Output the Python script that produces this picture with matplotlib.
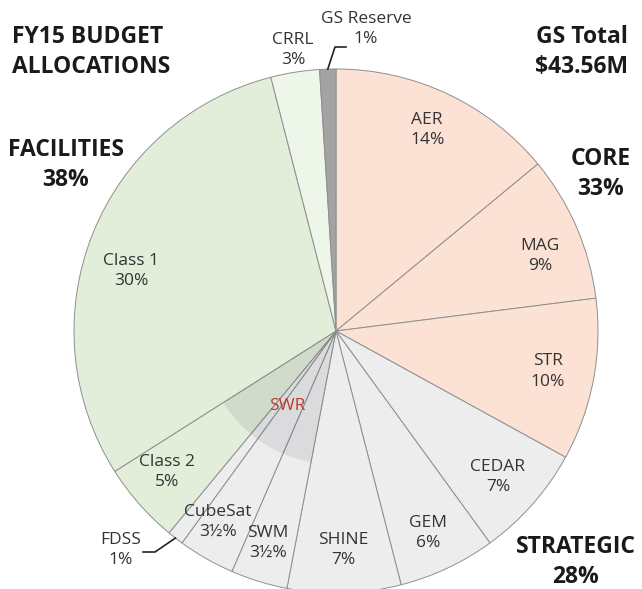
import numpy as np
import matplotlib
matplotlib.use('Agg')
import matplotlib.pyplot as plt

plt.rcParams['font.family'] = ['Open Sans', 'DejaVu Sans']

# 데이터 (시계 방향, 12시부터)
names = ['AER', 'MAG', 'STR', 'CEDAR', 'GEM', 'SHINE', 'SWM', 'CubeSat',
         'FDSS', 'Class 2', 'Class 1', 'CRRL', 'GS Reserve']
shares = [14, 9, 10, 7, 6, 7, 3.5, 3.5, 1, 5, 30, 3, 1]
pct_labels = ['14%', '9%', '10%', '7%', '6%', '7%', '3½%', '3½%',
              '1%', '5%', '30%', '3%', '1%']
groups = ['core', 'core', 'core', 'strategic', 'strategic', 'strategic', 'strategic',
          'strategic', 'strategic', 'facilities', 'facilities', 'crrl', 'reserve']

# SWR 오버레이: SWM ~ Class 2 구간 (누적 53% ~ 66%)
swr_split = [53, 13, 34]

group_totals = {'FACILITIES': '38%', 'CORE': '33%', 'STRATEGIC': '28%'}
total_text = 'GS Total\n$43.56M'

W, H = 642, 589
CX, CY, R = 336, H - 331, 262

colors = {'core': '#fbe2d5', 'strategic': '#ecedec', 'facilities': '#e2eed9',
          'crrl': '#eef6ea', 'reserve': '#a3a3a3'}

fig = plt.figure(figsize=(W / 100, H / 100), dpi=100)
ax = fig.add_axes([0, 0, 1, 1])

wedges, _ = ax.pie(shares, colors=[colors[g] for g in groups], startangle=90,
                   counterclock=False, center=(CX, CY), radius=R,
                   wedgeprops=dict(edgecolor='#8f8f8f', linewidth=0.7))

# SWR 반투명 영역
ax.pie(swr_split, colors=['none', (0.15, 0.15, 0.25, 0.09), 'none'], startangle=90,
       counterclock=False, center=(CX, CY), radius=R * 0.51,
       wedgeprops=dict(linewidth=0))

# pie()가 축 범위를 바꾸므로 그 뒤에 설정
ax.set_xlim(0, W)
ax.set_ylim(0, H)
ax.set_aspect('equal')
ax.axis('off')

ax.text(CX - 49, H - 406, 'SWR', color='#c0392b', fontsize=12.5, ha='center', va='center')

# 라벨 위치 (반지름 비율, 각도 보정)
label_r = {'AER': 0.842, 'MAG': 0.83, 'STR': 0.823, 'CEDAR': 0.832, 'GEM': 0.847,
           'SHINE': 0.836, 'SWM': 0.85, 'CubeSat': 0.857, 'Class 2': 0.84,
           'Class 1': 0.815}
label_da = {'AER': 0.8, 'MAG': -3.2, 'CEDAR': -0.6, 'GEM': -0.7, 'SWM': -0.7,
            'CubeSat': -2, 'Class 2': -1.6, 'Class 1': 5.3}

lab_kw = dict(fontsize=12.5, color='#333333', ha='center', va='center', linespacing=1.38)
for w, name, pct in zip(wedges, names, pct_labels):
    if name not in label_r:
        continue
    ang = np.deg2rad((w.theta1 + w.theta2) / 2 + label_da.get(name, 0))
    r = R * label_r[name]
    ax.text(CX + r * np.cos(ang), CY + r * np.sin(ang), f'{name}\n{pct}', **lab_kw)

ax.text(293, H - 50, 'CRRL\n3%', **lab_kw)

# 지시선 라벨
gs = wedges[names.index('GS Reserve')]
fd = wedges[names.index('FDSS')]
a = np.deg2rad((gs.theta1 + gs.theta2) / 2)
p0 = (CX + R * np.cos(a), CY + R * np.sin(a))
ax.plot([p0[0], 335, 346], [p0[1], H - 47, H - 47], color='#222222', lw=1.2)
ax.text(366, H - 29, 'GS Reserve\n1%', **lab_kw)

a = np.deg2rad((fd.theta1 + fd.theta2) / 2)
p0 = (CX + R * np.cos(a), CY + R * np.sin(a))
ax.plot([p0[0], 155, 143], [p0[1], H - 552, H - 552], color='#222222', lw=1.2)
ax.text(121, H - 550, 'FDSS\n1%', **lab_kw)

# 제목 및 그룹 라벨
head_kw = dict(fontsize=16.5, fontweight='bold', color='#1a1a1a', linespacing=1.36)
ax.text(12, H - 52, 'FY15 BUDGET\nALLOCATIONS', ha='left', va='center', **head_kw)
ax.text(628, H - 52, total_text, ha='right', va='center', **head_kw)
ax.text(66, H - 165, f"FACILITIES\n{group_totals['FACILITIES']}", ha='center', va='center', **head_kw)
ax.text(601, H - 174, f"CORE\n{group_totals['CORE']}", ha='center', va='center', **head_kw)
ax.text(576, H - 562, f"STRATEGIC\n{group_totals['STRATEGIC']}", ha='center', va='center', **head_kw)

fig.savefig('out.png', dpi=100)
